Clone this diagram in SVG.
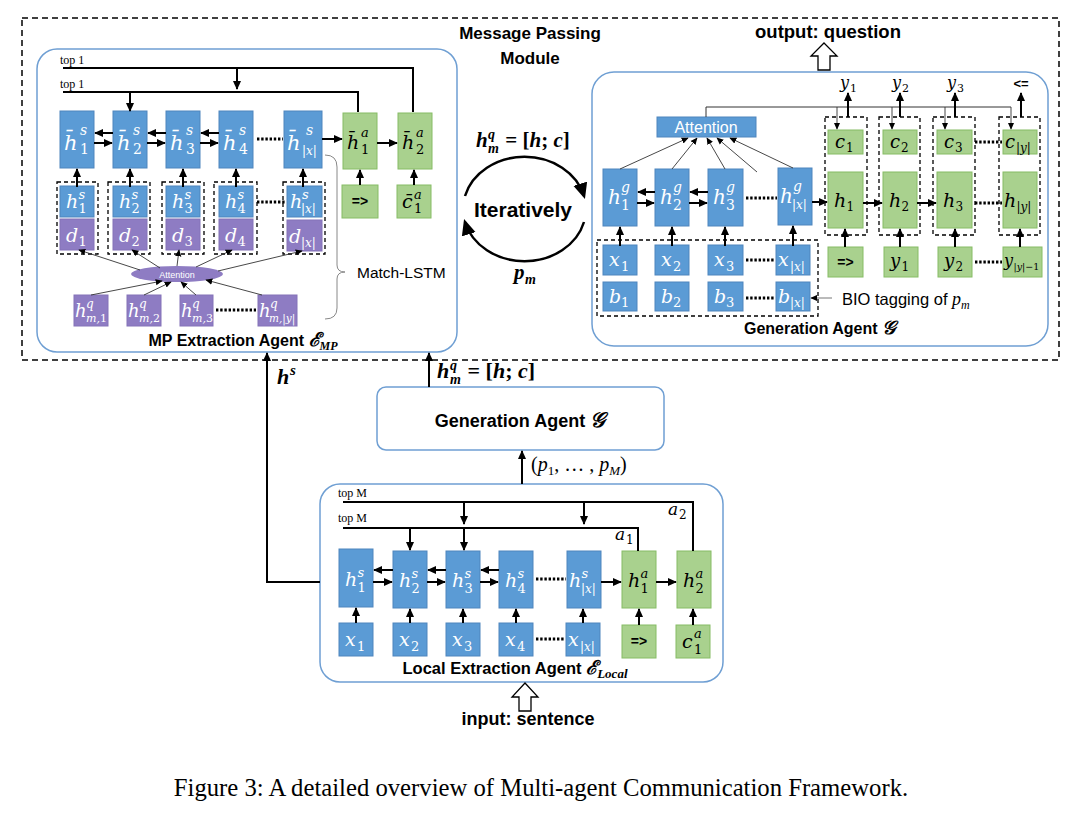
<svg xmlns="http://www.w3.org/2000/svg" width="1082" height="814" viewBox="0 0 1082 814">
<defs>
<marker id="ah" viewBox="0 0 10 10" refX="9" refY="5" markerWidth="9" markerHeight="9" markerUnits="userSpaceOnUse" orient="auto"><path d="M0,0.5 L10,5 L0,9.5 z" fill="#000"/></marker>
<marker id="as" viewBox="0 0 10 10" refX="9" refY="5" markerWidth="7" markerHeight="7" markerUnits="userSpaceOnUse" orient="auto"><path d="M0,0.5 L10,5 L0,9.5 z" fill="#000"/></marker>
<marker id="al" viewBox="0 0 10 10" refX="8" refY="5" markerWidth="16" markerHeight="16" markerUnits="userSpaceOnUse" orient="auto"><path d="M0,0.5 L10,5 L0,9.5 z" fill="#000"/></marker>
<style>
.panel{fill:#fff;stroke:#6F9FD3;stroke-width:1.5}
.bl{fill:#5B9BD5;stroke:#4F85BD;stroke-width:1}
.gr{fill:#A9D18E;stroke:#86BC65;stroke-width:1}
.pu{fill:#8E7CC3;stroke:#8472B8;stroke-width:1}
.dash{fill:none;stroke:#000;stroke-width:1.3;stroke-dasharray:4 3}
.ln{fill:none;stroke:#000;stroke-width:2}
.arr{fill:none;stroke:#000;stroke-width:2;marker-end:url(#ah)}
.thin{fill:none;stroke:#333;stroke-width:0.9;marker-end:url(#as)}
.dots{fill:none;stroke:#000;stroke-width:3;stroke-dasharray:2.4 1.8}
.m{font-family:"Liberation Serif","DejaVu Serif",serif;font-style:italic}
.d{font-family:"DejaVu Serif","Liberation Serif",serif;font-style:italic}
.n{font-style:normal}
.w{fill:#fff}
.k{fill:#000}
.bs{font-family:"Liberation Sans",Arial,sans-serif;font-weight:bold}
.ss{font-family:"Liberation Sans",Arial,sans-serif}
.tp{font-family:"Liberation Serif","DejaVu Serif",serif;font-size:12px}
</style>
</defs>
<rect width="1082" height="814" fill="#fff"/>

<g id="message-passing-module">
<rect x="22" y="18" width="1037" height="342" fill="none" stroke="#000" stroke-width="1.5" stroke-dasharray="6 4"/>
<text class="bs" x="530" y="39" font-size="17" text-anchor="middle">Message Passing</text>
<text class="bs" x="530" y="64" font-size="17" text-anchor="middle">Module</text>
<text class="m" font-weight="bold" font-size="21"><tspan x="476" y="147">h</tspan><tspan x="488" y="139" font-size="14">q</tspan><tspan x="488" y="153" font-size="14">m</tspan><tspan x="500" y="147" class="n"> = [</tspan><tspan>h</tspan><tspan class="n">; </tspan><tspan>c</tspan><tspan class="n">]</tspan></text>
<text class="bs" x="523" y="217" font-size="21" text-anchor="middle">Iteratively</text>
<text class="m" font-weight="bold" font-size="21"><tspan x="514" y="279">p</tspan><tspan x="525" y="284" font-size="14">m</tspan></text>
</g>

<g id="mp-extraction-agent">
<rect class="panel" x="37" y="49" width="420" height="303" rx="20"/>
<text class="tp" x="60" y="64">top 1</text>
<text class="tp" x="60" y="88">top 1</text>
<rect class="bl" x="60" y="111" width="34" height="57"/>
<rect class="bl" x="113" y="111" width="34" height="57"/>
<rect class="bl" x="166" y="111" width="34" height="57"/>
<rect class="bl" x="219" y="111" width="34" height="57"/>
<rect class="bl" x="284" y="111" width="38" height="57"/>
<text class="d w" font-size="21"><tspan x="64" y="150">h̄</tspan><tspan x="80" y="135" font-size="14">s</tspan><tspan x="80" y="154" font-size="14" class="n">1</tspan></text>
<text class="d w" font-size="21"><tspan x="117" y="150">h̄</tspan><tspan x="133" y="135" font-size="14">s</tspan><tspan x="133" y="154" font-size="14" class="n">2</tspan></text>
<text class="d w" font-size="21"><tspan x="170" y="150">h̄</tspan><tspan x="186" y="135" font-size="14">s</tspan><tspan x="186" y="154" font-size="14" class="n">3</tspan></text>
<text class="d w" font-size="21"><tspan x="223" y="150">h̄</tspan><tspan x="239" y="135" font-size="14">s</tspan><tspan x="239" y="154" font-size="14" class="n">4</tspan></text>
<text class="d w" font-size="21"><tspan x="287" y="150">h̄</tspan><tspan x="306" y="135" font-size="14">s</tspan><tspan x="302" y="155" font-size="12">|x|</tspan></text>
<rect class="gr" x="343" y="113" width="34" height="56"/>
<rect class="gr" x="398" y="113" width="34" height="56"/>
<text class="d k" font-size="19"><tspan x="347" y="149">h̄</tspan><tspan x="361" y="137" font-size="13">a</tspan><tspan x="361" y="154" font-size="13" class="n">1</tspan></text>
<text class="d k" font-size="19"><tspan x="402" y="149">h̄</tspan><tspan x="416" y="137" font-size="13">a</tspan><tspan x="416" y="154" font-size="13" class="n">2</tspan></text>

<rect class="dash" x="57" y="182" width="41" height="72"/>
<rect class="dash" x="108" y="182" width="42" height="72"/>
<rect class="dash" x="162" y="182" width="42" height="72"/>
<rect class="dash" x="214" y="182" width="43" height="72"/>
<rect class="dash" x="283" y="182" width="42" height="72"/>
<rect class="bl" x="60" y="186" width="34" height="31"/>
<rect class="bl" x="113" y="186" width="34" height="31"/>
<rect class="bl" x="166" y="186" width="34" height="31"/>
<rect class="bl" x="219" y="186" width="34" height="31"/>
<rect class="bl" x="287" y="186" width="35" height="31"/>
<rect class="pu" x="60" y="219" width="34" height="31"/>
<rect class="pu" x="113" y="219" width="34" height="31"/>
<rect class="pu" x="166" y="219" width="34" height="31"/>
<rect class="pu" x="219" y="219" width="34" height="31"/>
<rect class="pu" x="287" y="220" width="35" height="31"/>
<text class="d w" font-size="19"><tspan x="66" y="208">h</tspan><tspan x="78.5" y="199" font-size="13">s</tspan><tspan x="78.5" y="213" font-size="13" class="n">1</tspan></text>
<text class="d w" font-size="19"><tspan x="119" y="208">h</tspan><tspan x="131.5" y="199" font-size="13">s</tspan><tspan x="131.5" y="213" font-size="13" class="n">2</tspan></text>
<text class="d w" font-size="19"><tspan x="172" y="208">h</tspan><tspan x="184.5" y="199" font-size="13">s</tspan><tspan x="184.5" y="213" font-size="13" class="n">3</tspan></text>
<text class="d w" font-size="19"><tspan x="225" y="208">h</tspan><tspan x="237.5" y="199" font-size="13">s</tspan><tspan x="237.5" y="213" font-size="13" class="n">4</tspan></text>
<text class="d w" font-size="19"><tspan x="290" y="208">h</tspan><tspan x="302" y="199" font-size="13">s</tspan><tspan x="301" y="213" font-size="12">|x|</tspan></text>
<text class="d w" font-size="19"><tspan x="66" y="242">d</tspan><tspan x="78.5" y="246" font-size="13" class="n">1</tspan></text>
<text class="d w" font-size="19"><tspan x="119" y="242">d</tspan><tspan x="131.5" y="246" font-size="13" class="n">2</tspan></text>
<text class="d w" font-size="19"><tspan x="172" y="242">d</tspan><tspan x="184.5" y="246" font-size="13" class="n">3</tspan></text>
<text class="d w" font-size="19"><tspan x="225" y="242">d</tspan><tspan x="237.5" y="246" font-size="13" class="n">4</tspan></text>
<text class="d w" font-size="19"><tspan x="289" y="243">d</tspan><tspan x="301" y="247" font-size="12">|x|</tspan></text>

<rect class="gr" x="342" y="185" width="36" height="33"/>
<rect class="gr" x="397" y="185" width="34" height="33"/>
<text class="bs" x="360" y="206" font-size="14" text-anchor="middle">=&gt;</text>
<text class="d k" font-size="19"><tspan x="402" y="208">c̄</tspan><tspan x="414" y="199" font-size="13">a</tspan><tspan x="414" y="213" font-size="13" class="n">1</tspan></text>

<ellipse cx="177" cy="274" rx="46" ry="8" fill="#8E7CC3"/>
<text class="ss" x="177" y="277.5" font-size="9" fill="#fff" text-anchor="middle">Attention</text>

<rect class="pu" x="74" y="295" width="34" height="31"/>
<rect class="pu" x="127" y="295" width="34" height="31"/>
<rect class="pu" x="180" y="295" width="33" height="31"/>
<rect class="pu" x="258" y="295" width="39" height="31"/>
<text class="d w" font-size="18"><tspan x="75" y="317">h</tspan><tspan x="86" y="308" font-size="12">q</tspan><tspan x="86" y="322" font-size="11">m,<tspan class="n">1</tspan></tspan></text>
<text class="d w" font-size="18"><tspan x="128" y="317">h</tspan><tspan x="139" y="308" font-size="12">q</tspan><tspan x="139" y="322" font-size="11">m,<tspan class="n">2</tspan></tspan></text>
<text class="d w" font-size="18"><tspan x="181" y="317">h</tspan><tspan x="192" y="308" font-size="12">q</tspan><tspan x="192" y="322" font-size="11">m,<tspan class="n">3</tspan></tspan></text>
<text class="d w" font-size="18"><tspan x="259" y="317">h</tspan><tspan x="270" y="308" font-size="12">q</tspan><tspan x="269" y="322" font-size="10.5">m,|y|</tspan></text>

<path d="M325,155 Q337,155 337,167 L337,265 Q337,272 345,272 Q337,272 337,279 L337,308 Q337,319 325,319" fill="none" stroke="#888" stroke-width="1"/>
<text class="ss" x="357" y="278" font-size="15.5">Match-LSTM</text>
<text class="bs" x="243" y="346" font-size="16" text-anchor="middle">MP Extraction Agent <tspan class="m" font-size="19">ℰ</tspan><tspan class="m" font-size="12" dy="4">MP</tspan></text>
</g>

<g id="generation-agent-detail">
<rect class="panel" x="592" y="72" width="456" height="274" rx="22"/>
<text class="bs" x="828" y="38" font-size="18.5" text-anchor="middle">output: question</text>
<polygon points="824,43 837,56 830,56 830,70 818,70 818,56 811,56" fill="#fff" stroke="#000" stroke-width="1.3"/>
<rect class="bl" x="657" y="117" width="99" height="20"/>
<text class="ss" x="706" y="133" font-size="16" fill="#fff" text-anchor="middle">Attention</text>
<rect class="bl" x="603" y="169" width="34" height="57"/>
<rect class="bl" x="655" y="169" width="34" height="57"/>
<rect class="bl" x="708" y="169" width="35" height="57"/>
<rect class="bl" x="778" y="168" width="34" height="57"/>
<text class="d w" font-size="20"><tspan x="608" y="204">h</tspan><tspan x="621" y="192" font-size="14">g</tspan><tspan x="621" y="210" font-size="14" class="n">1</tspan></text>
<text class="d w" font-size="20"><tspan x="660" y="204">h</tspan><tspan x="673" y="192" font-size="14">g</tspan><tspan x="673" y="210" font-size="14" class="n">2</tspan></text>
<text class="d w" font-size="20"><tspan x="713" y="204">h</tspan><tspan x="726" y="192" font-size="14">g</tspan><tspan x="726" y="210" font-size="14" class="n">3</tspan></text>
<text class="d w" font-size="20"><tspan x="780" y="203">h</tspan><tspan x="793" y="191" font-size="14">g</tspan><tspan x="792" y="209" font-size="12">|x|</tspan></text>
<rect class="dash" x="597" y="240" width="221" height="76"/>
<rect class="bl" x="603" y="245" width="34" height="30"/>
<rect class="bl" x="655" y="245" width="34" height="30"/>
<rect class="bl" x="708" y="245" width="35" height="30"/>
<rect class="bl" x="776" y="245" width="34" height="30"/>
<rect class="bl" x="603" y="282" width="34" height="29"/>
<rect class="bl" x="655" y="282" width="34" height="29"/>
<rect class="bl" x="708" y="282" width="35" height="29"/>
<rect class="bl" x="776" y="282" width="34" height="29"/>
<text class="d w" font-size="19"><tspan x="609" y="266">x</tspan><tspan x="621" y="271" font-size="13" class="n">1</tspan></text>
<text class="d w" font-size="19"><tspan x="661" y="266">x</tspan><tspan x="673" y="271" font-size="13" class="n">2</tspan></text>
<text class="d w" font-size="19"><tspan x="714" y="266">x</tspan><tspan x="726" y="271" font-size="13" class="n">3</tspan></text>
<text class="d w" font-size="19"><tspan x="778" y="266">x</tspan><tspan x="790" y="271" font-size="12">|x|</tspan></text>
<text class="d w" font-size="19"><tspan x="609" y="303">b</tspan><tspan x="621" y="307" font-size="13" class="n">1</tspan></text>
<text class="d w" font-size="19"><tspan x="661" y="303">b</tspan><tspan x="673" y="307" font-size="13" class="n">2</tspan></text>
<text class="d w" font-size="19"><tspan x="714" y="303">b</tspan><tspan x="726" y="307" font-size="13" class="n">3</tspan></text>
<text class="d w" font-size="19"><tspan x="778" y="303">b</tspan><tspan x="790" y="307" font-size="12">|x|</tspan></text>

<rect class="dash" x="825" y="117" width="42" height="118"/>
<rect class="dash" x="879" y="117" width="41" height="118"/>
<rect class="dash" x="933" y="117" width="42" height="118"/>
<rect class="dash" x="999" y="117" width="41" height="118"/>
<rect class="gr" x="828" y="130" width="35" height="24"/>
<rect class="gr" x="883" y="130" width="34" height="24"/>
<rect class="gr" x="937" y="130" width="35" height="24"/>
<rect class="gr" x="1003" y="130" width="34" height="24"/>
<rect class="gr" x="828" y="172" width="35" height="56"/>
<rect class="gr" x="883" y="172" width="34" height="56"/>
<rect class="gr" x="937" y="172" width="35" height="56"/>
<rect class="gr" x="1003" y="172" width="34" height="56"/>
<text class="d k" font-size="18"><tspan x="835" y="148">c</tspan><tspan x="846" y="152" font-size="12" class="n">1</tspan></text>
<text class="d k" font-size="18"><tspan x="890" y="148">c</tspan><tspan x="901" y="152" font-size="12" class="n">2</tspan></text>
<text class="d k" font-size="18"><tspan x="944" y="148">c</tspan><tspan x="955" y="152" font-size="12" class="n">3</tspan></text>
<text class="d k" font-size="18"><tspan x="1005" y="148">c</tspan><tspan x="1016" y="152" font-size="12">|y|</tspan></text>
<text class="d k" font-size="19"><tspan x="834" y="207">h</tspan><tspan x="846.5" y="211" font-size="12" class="n">1</tspan></text>
<text class="d k" font-size="19"><tspan x="889" y="207">h</tspan><tspan x="901.5" y="211" font-size="12" class="n">2</tspan></text>
<text class="d k" font-size="19"><tspan x="943" y="207">h</tspan><tspan x="955.5" y="211" font-size="12" class="n">3</tspan></text>
<text class="d k" font-size="19"><tspan x="1004" y="207">h</tspan><tspan x="1016.5" y="211" font-size="12">|y|</tspan></text>
<rect class="gr" x="828" y="247" width="35" height="30"/>
<rect class="gr" x="884" y="247" width="34" height="30"/>
<rect class="gr" x="938" y="247" width="34" height="30"/>
<rect class="gr" x="1003" y="247" width="39" height="30"/>
<text class="bs" x="845.5" y="267" font-size="14" text-anchor="middle">=&gt;</text>
<text class="d k" font-size="18"><tspan x="890" y="267">y</tspan><tspan x="901.5" y="271" font-size="12" class="n">1</tspan></text>
<text class="d k" font-size="18"><tspan x="944" y="267">y</tspan><tspan x="955.5" y="271" font-size="12" class="n">2</tspan></text>
<text class="d k" font-size="16"><tspan x="1004" y="266">y</tspan><tspan x="1013.5" y="270" font-size="9.5">|y|<tspan class="n">−1</tspan></tspan></text>

<text class="d k" font-size="16"><tspan x="840" y="88">y</tspan><tspan x="850" y="92" font-size="11" class="n">1</tspan></text>
<text class="d k" font-size="16"><tspan x="892" y="88">y</tspan><tspan x="902" y="92" font-size="11" class="n">2</tspan></text>
<text class="d k" font-size="16"><tspan x="947" y="88">y</tspan><tspan x="957" y="92" font-size="11" class="n">3</tspan></text>
<text class="bs" x="1021" y="88" font-size="13" text-anchor="middle">&lt;=</text>
<text class="ss" x="842" y="305" font-size="16.5">BIO tagging of <tspan class="m" font-size="18">p</tspan><tspan class="m" font-size="12" dy="4">m</tspan></text>
<text class="bs" x="820" y="334" font-size="16" text-anchor="middle">Generation Agent <tspan class="m" font-size="19">𝒢</tspan></text>
</g>

<g id="generation-agent">
<rect x="377" y="387" width="287" height="63" rx="9" fill="#fff" stroke="#6F9FD3" stroke-width="1.5"/>
<text class="bs" x="520" y="427" font-size="18" text-anchor="middle">Generation Agent <tspan class="m" font-size="21">𝒢</tspan></text>
</g>

<g id="local-extraction-agent">
<rect class="panel" x="320" y="484" width="403" height="198" rx="20"/>
<text class="tp" x="338" y="497">top M</text>
<text class="tp" x="338" y="522">top M</text>
<rect class="bl" x="339" y="549" width="34" height="58"/>
<rect class="bl" x="393" y="551" width="34" height="57"/>
<rect class="bl" x="446" y="551" width="34" height="57"/>
<rect class="bl" x="499" y="551" width="34" height="57"/>
<rect class="bl" x="567" y="551" width="34" height="57"/>
<rect class="gr" x="622" y="551" width="34" height="57"/>
<rect class="gr" x="677" y="551" width="34" height="57"/>
<text class="d w" font-size="19"><tspan x="345" y="586">h</tspan><tspan x="357.5" y="577" font-size="13">s</tspan><tspan x="357.5" y="592" font-size="13" class="n">1</tspan></text>
<text class="d w" font-size="19"><tspan x="399" y="587">h</tspan><tspan x="411.5" y="578" font-size="13">s</tspan><tspan x="411.5" y="593" font-size="13" class="n">2</tspan></text>
<text class="d w" font-size="19"><tspan x="452" y="587">h</tspan><tspan x="464.5" y="578" font-size="13">s</tspan><tspan x="464.5" y="593" font-size="13" class="n">3</tspan></text>
<text class="d w" font-size="19"><tspan x="505" y="587">h</tspan><tspan x="517.5" y="578" font-size="13">s</tspan><tspan x="517.5" y="593" font-size="13" class="n">4</tspan></text>
<text class="d w" font-size="19"><tspan x="569" y="587">h</tspan><tspan x="581.5" y="578" font-size="13">s</tspan><tspan x="581" y="593" font-size="12">|x|</tspan></text>
<text class="d k" font-size="19"><tspan x="628" y="587">h</tspan><tspan x="640.5" y="578" font-size="13">a</tspan><tspan x="640.5" y="593" font-size="13" class="n">1</tspan></text>
<text class="d k" font-size="19"><tspan x="683" y="587">h</tspan><tspan x="695.5" y="578" font-size="13">a</tspan><tspan x="695.5" y="593" font-size="13" class="n">2</tspan></text>
<rect class="bl" x="339" y="623" width="34" height="33"/>
<rect class="bl" x="393" y="623" width="34" height="33"/>
<rect class="bl" x="446" y="623" width="34" height="33"/>
<rect class="bl" x="499" y="623" width="34" height="33"/>
<rect class="bl" x="566" y="623" width="34" height="33"/>
<rect class="gr" x="622" y="625" width="34" height="33"/>
<rect class="gr" x="676" y="625" width="34" height="33"/>
<text class="d w" font-size="19"><tspan x="345" y="646">x</tspan><tspan x="357" y="651" font-size="13" class="n">1</tspan></text>
<text class="d w" font-size="19"><tspan x="399" y="646">x</tspan><tspan x="411" y="651" font-size="13" class="n">2</tspan></text>
<text class="d w" font-size="19"><tspan x="452" y="646">x</tspan><tspan x="464" y="651" font-size="13" class="n">3</tspan></text>
<text class="d w" font-size="19"><tspan x="505" y="646">x</tspan><tspan x="517" y="651" font-size="13" class="n">4</tspan></text>
<text class="d w" font-size="19"><tspan x="568" y="646">x</tspan><tspan x="580" y="651" font-size="12">|x|</tspan></text>
<text class="bs" x="639" y="646" font-size="14" text-anchor="middle">=&gt;</text>
<text class="d k" font-size="19"><tspan x="682" y="648">c</tspan><tspan x="694" y="638" font-size="13">a</tspan><tspan x="694" y="654" font-size="13" class="n">1</tspan></text>
<text class="d k" font-size="17"><tspan x="615" y="540">a</tspan><tspan x="626" y="544" font-size="12" class="n">1</tspan></text>
<text class="d k" font-size="17"><tspan x="668" y="515">a</tspan><tspan x="679" y="519" font-size="12" class="n">2</tspan></text>
<text class="bs" x="515" y="674" font-size="16.5" text-anchor="middle">Local Extraction Agent <tspan class="m" font-size="19">ℰ</tspan><tspan class="m" font-size="13" dy="4">Local</tspan></text>
<polygon points="525,683 538,697 531,697 531,711 519,711 519,697 512,697" fill="#fff" stroke="#000" stroke-width="1.3"/>
<text class="bs" x="528" y="725" font-size="18" text-anchor="middle">input: sentence</text>
</g>

<g id="connectors">
<polyline class="ln" points="63,68 413,68 413,112"/>
<polyline class="ln" points="63,92 358,92 358,112"/>
<line class="arr" x1="237" y1="68" x2="237" y2="89"/>
<line class="arr" x1="130" y1="92" x2="130" y2="111"/>
<line class="arr" x1="113" y1="133" x2="95" y2="133"/>
<line class="arr" x1="94" y1="143" x2="112" y2="143"/>
<line class="arr" x1="166" y1="133" x2="148" y2="133"/>
<line class="arr" x1="147" y1="143" x2="165" y2="143"/>
<line class="arr" x1="219" y1="133" x2="201" y2="133"/>
<line class="arr" x1="200" y1="143" x2="218" y2="143"/>
<line class="dots" x1="257" y1="139" x2="283" y2="139"/>
<line class="arr" x1="322" y1="139" x2="342" y2="139"/>
<line class="arr" x1="377" y1="143" x2="397" y2="143"/>
<line class="arr" x1="77" y1="187" x2="77" y2="169"/>
<line class="arr" x1="130" y1="187" x2="130" y2="169"/>
<line class="arr" x1="183" y1="187" x2="183" y2="169"/>
<line class="arr" x1="236" y1="187" x2="236" y2="169"/>
<line class="arr" x1="303" y1="187" x2="303" y2="169"/>
<line class="arr" x1="360" y1="185" x2="360" y2="170"/>
<line class="arr" x1="414" y1="185" x2="414" y2="170"/>
<line class="dots" x1="257" y1="202" x2="286" y2="202"/>
<line class="dots" x1="216" y1="310" x2="256" y2="310"/>
<line class="thin" x1="140" y1="270" x2="79" y2="250"/>
<line class="thin" x1="160" y1="268" x2="132" y2="250"/>
<line class="thin" x1="177" y1="266" x2="179" y2="250"/>
<line class="thin" x1="196" y1="267" x2="232" y2="250"/>
<line class="thin" x1="218" y1="271" x2="302" y2="251"/>
<line class="thin" x1="91" y1="295" x2="162" y2="281"/>
<line class="thin" x1="144" y1="295" x2="171" y2="282"/>
<line class="thin" x1="196" y1="295" x2="181" y2="282"/>
<line class="thin" x1="262" y1="295" x2="206" y2="280"/>
<path d="M465,196 A61.5,52.5 0 0 1 584,196" fill="none" stroke="#000" stroke-width="2.5" marker-end="url(#al)"/>
<path d="M584,222 A61.5,52.5 0 0 1 465,222" fill="none" stroke="#000" stroke-width="2.5" marker-end="url(#al)"/>
<polyline points="706,117 706,107 1011,107" fill="none" stroke="#333" stroke-width="1"/>
<line class="thin" x1="837" y1="107" x2="837" y2="129"/>
<line class="thin" x1="892" y1="107" x2="892" y2="129"/>
<line class="thin" x1="945" y1="107" x2="945" y2="129"/>
<line class="thin" x1="1011" y1="107" x2="1011" y2="129"/>
<line class="arr" x1="848" y1="117" x2="848" y2="93"/>
<line class="arr" x1="900" y1="117" x2="900" y2="93"/>
<line class="arr" x1="955" y1="117" x2="955" y2="93"/>
<line class="arr" x1="1021" y1="117" x2="1021" y2="93"/>
<line class="thin" x1="620" y1="169" x2="688" y2="138"/>
<line class="thin" x1="672" y1="169" x2="697" y2="138"/>
<line class="thin" x1="725" y1="169" x2="707" y2="138"/>
<line class="thin" x1="757" y1="172" x2="717" y2="138"/>
<line class="thin" x1="793" y1="168" x2="730" y2="138"/>
<line class="arr" x1="655" y1="192" x2="638" y2="192"/>
<line class="arr" x1="637" y1="203" x2="654" y2="203"/>
<line class="arr" x1="708" y1="192" x2="690" y2="192"/>
<line class="arr" x1="689" y1="203" x2="707" y2="203"/>
<line class="dots" x1="746" y1="198" x2="777" y2="198"/>
<line class="arr" x1="812" y1="202" x2="827" y2="202"/>
<line class="arr" x1="863" y1="203" x2="882" y2="203"/>
<line class="arr" x1="917" y1="203" x2="936" y2="203"/>
<line class="dots" x1="975" y1="203" x2="1002" y2="203"/>
<line class="dots" x1="975" y1="142" x2="1002" y2="142"/>
<line class="dots" x1="975" y1="262" x2="1002" y2="262"/>
<line class="arr" x1="845" y1="247" x2="845" y2="229"/>
<line class="arr" x1="900" y1="247" x2="900" y2="229"/>
<line class="arr" x1="955" y1="247" x2="955" y2="229"/>
<line class="arr" x1="1020" y1="247" x2="1020" y2="229"/>
<line class="arr" x1="620" y1="246" x2="620" y2="227"/>
<line class="arr" x1="672" y1="246" x2="672" y2="227"/>
<line class="arr" x1="725" y1="246" x2="725" y2="227"/>
<line class="arr" x1="793" y1="246" x2="793" y2="226"/>
<line class="dots" x1="746" y1="260" x2="775" y2="260"/>
<line class="dots" x1="746" y1="298" x2="775" y2="298"/>
<line x1="832" y1="298" x2="811" y2="298" stroke="#777" stroke-width="1" marker-end="url(#as)"/>
<polyline class="arr" points="320,582 267,582 267,353"/>
<line class="arr" x1="429" y1="387" x2="429" y2="353"/>
<line class="arr" x1="522" y1="484" x2="522" y2="451"/>
<polyline class="ln" points="343,502 693,502 693,551"/>
<polyline class="ln" points="343,528 638,528 638,551"/>
<line class="arr" x1="464" y1="502" x2="464" y2="524"/>
<line class="arr" x1="584" y1="502" x2="584" y2="524"/>
<line class="arr" x1="410" y1="528" x2="410" y2="550"/>
<line class="arr" x1="464" y1="528" x2="464" y2="550"/>
<line class="arr" x1="393" y1="570" x2="374" y2="570"/>
<line class="arr" x1="373" y1="582" x2="392" y2="582"/>
<line class="arr" x1="446" y1="570" x2="428" y2="570"/>
<line class="arr" x1="427" y1="582" x2="445" y2="582"/>
<line class="arr" x1="499" y1="570" x2="481" y2="570"/>
<line class="arr" x1="480" y1="582" x2="498" y2="582"/>
<line class="dots" x1="536" y1="579" x2="566" y2="579"/>
<line class="arr" x1="601" y1="582" x2="621" y2="582"/>
<line class="arr" x1="656" y1="582" x2="676" y2="582"/>
<line class="arr" x1="356" y1="623" x2="356" y2="608"/>
<line class="arr" x1="410" y1="623" x2="410" y2="609"/>
<line class="arr" x1="463" y1="623" x2="463" y2="609"/>
<line class="arr" x1="516" y1="623" x2="516" y2="609"/>
<line class="arr" x1="583" y1="623" x2="583" y2="609"/>
<line class="arr" x1="639" y1="625" x2="639" y2="609"/>
<line class="arr" x1="693" y1="625" x2="693" y2="609"/>
<line class="dots" x1="536" y1="639" x2="565" y2="639"/>
</g>

<g id="edge-labels">
<text class="m" font-weight="bold" font-size="22"><tspan x="277" y="384">h</tspan><tspan x="290" y="375" font-size="15">s</tspan></text>
<text class="m" font-weight="bold" font-size="22"><tspan x="437" y="378">h</tspan><tspan x="450" y="370" font-size="14">q</tspan><tspan x="450" y="384" font-size="14">m</tspan><tspan x="462" y="378" class="n"> = [</tspan><tspan>h</tspan><tspan class="n">; </tspan><tspan>c</tspan><tspan class="n">]</tspan></text>
<text class="m" font-size="20"><tspan x="531" y="471" class="n">(</tspan><tspan>p</tspan><tspan font-size="13" dy="4" class="n">1</tspan><tspan dy="-4" class="n">, … , </tspan><tspan>p</tspan><tspan font-size="13" dy="4">M</tspan><tspan dy="-4" class="n">)</tspan></text>
</g>

<text x="541" y="796" font-family="'Liberation Serif',serif" font-size="24.7" text-anchor="middle">Figure 3: A detailed overview of Multi-agent Communication Framework.</text>
</svg>
